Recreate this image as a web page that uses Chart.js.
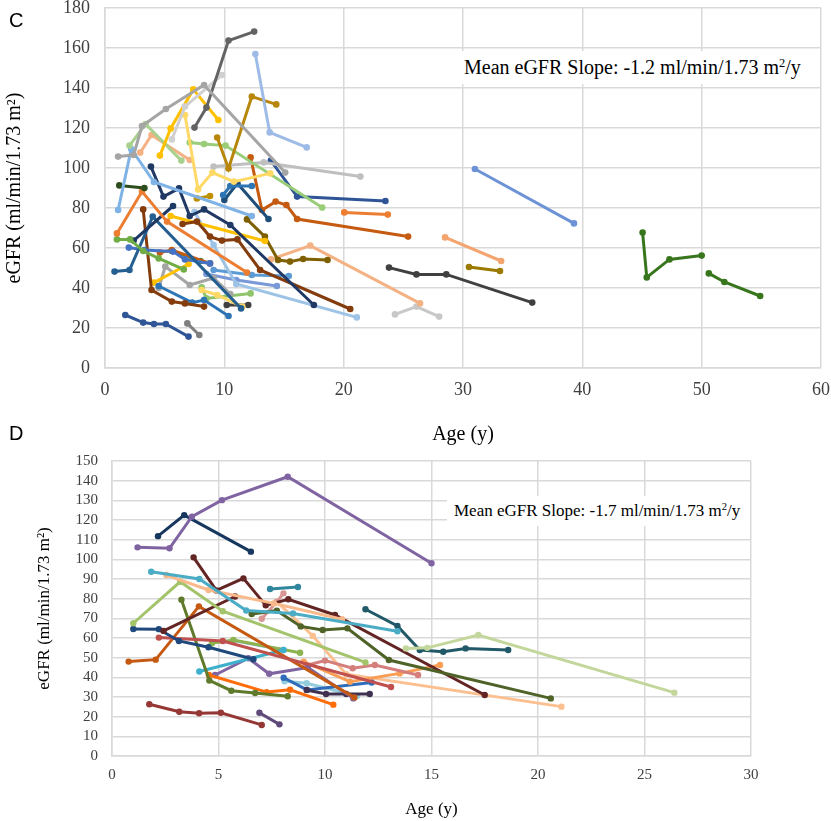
<!DOCTYPE html>
<html>
<head>
<meta charset="utf-8">
<script src="https://cdn.jsdelivr.net/npm/chart.js@4.4.1/dist/chart.umd.min.js"></script>
<style>
  body { margin: 0; background: #fff; width: 831px; height: 821px; overflow: hidden; position: relative; font-family: 'Liberation Serif', serif; }
  .wrap { position: absolute; left: 0; width: 831px; }
  .panel { position: absolute; font-family: 'Liberation Sans', Arial, sans-serif; font-size: 20px; line-height: 20px; color: #000; }
  .note { position: absolute; background: #fff; color: #000; white-space: nowrap; box-sizing: border-box; }
  .note sup { font-size: 0.62em; vertical-align: 0.55em; line-height: 0; }
</style>
</head>
<body>
<div class="wrap" style="top:0;height:450px"><canvas id="chartC"></canvas></div>
<div class="wrap" style="top:450px;height:371px"><canvas id="chartD"></canvas></div>
<div class="panel" style="left:9px;top:10px">C</div>
<div class="panel" style="left:9px;top:423px">D</div>
<div class="note" style="left:458px;top:51px;width:362px;height:33px;line-height:33px;padding-left:6px;font-size:20px">Mean eGFR Slope: -1.2 ml/min/1.73 m<sup>2</sup>/y</div>
<div class="note" style="left:447px;top:496px;width:303px;height:30px;line-height:30px;padding-left:7px;font-size:17px">Mean eGFR Slope: -1.7 ml/min/1.73 m<sup>2</sup>/y</div>

<script>
// ---- panel C: age (y) and eGFR per patient ----
var C_X_TICKS = [0, 10, 20, 30, 40, 50, 60];
var C_Y_TICKS = [0, 20, 40, 60, 80, 100, 120, 140, 160, 180];

var C_AGE = [
  [1.1, 2.4, 3.1, 5.1, 8.3, 15.1],
  [7.5, 8.5, 10.35, 12.5],
  [5.6, 6.7, 9.8],
  [12.6, 13.8, 16.9],
  [9.4, 10.35, 12.3, 14.35],
  [4.6, 5.5, 7.4, 9.5],
  [6.7, 7.8, 9.0, 10.8, 13.85],
  [2.05, 3.4, 6.4],
  [2.95, 3.9, 7.1],
  [7.1, 8.3, 10.1, 18.2],
  [9.1, 13.3, 21.4],
  [1.1, 2.2, 4.1, 12.3],
  [1.2, 3.3],
  [3.85, 4.9, 6.2, 7.1, 8.3, 10.5, 17.5],
  [1.0, 3.1, 5.2, 11.9],
  [1.0, 2.1, 3.2, 4.5, 6.6],
  [2.4, 5.7],
  [0.8, 2.05, 4.0, 11.4],
  [2.0, 3.3, 5.7, 6.7, 8.8],
  [4.6, 5.6, 8.8],
  [5.6, 8.0],
  [3.2, 3.9, 5.6, 6.7, 8.3],
  [4.5, 7.3, 8.3, 10.35],
  [4.1, 7.0],
  [4.5, 5.05, 7.1, 9.1, 10.5],
  [8.1, 9.4, 11.5],
  [8.1, 8.5, 12.2],
  [10.2, 12.0],
  [1.7, 3.2, 4.1, 5.1, 7.0],
  [6.9, 7.9],
  [6.5, 7.7, 8.8, 9.8, 11.1, 13.0, 20.55],
  [5.5, 13.4],
  [7.5, 9.1, 11.0, 21.1],
  [9.1, 12.3, 15.4],
  [8.5, 11.0, 14.4],
  [9.9, 10.5, 12.3],
  [10.0, 11.1, 13.7],
  [7.7, 8.8],
  [12.2, 13.15, 14.3, 15.2, 16.1, 25.4],
  [13.9, 16.1, 23.5],
  [20.05, 23.7],
  [11.9, 13.4, 14.5, 15.5, 16.6, 18.65],
  [13.9, 17.2, 26.4],
  [23.8, 26.1, 28.6, 35.8],
  [24.3, 26.1, 28.0],
  [28.5, 33.2],
  [30.5, 33.1],
  [31.0, 39.3],
  [45.05, 45.4, 47.3, 50.0],
  [50.6, 51.9, 54.9]
];

var C_EGFR = [
  [105.7, 106.5, 121, 129.5, 141.5, 97.7],
  [120.2, 130.2, 163.7, 168.2],
  [114.3, 130.7, 146.5],
  [157, 117.8, 110.3],
  [115.2, 99.8, 135.7, 131.8],
  [106.2, 119.8, 139.3, 124],
  [126.5, 89.3, 97.7, 93.2, 97.3],
  [111.2, 122, 103.7],
  [107.7, 116.5, 104],
  [112.7, 112, 111.2, 80.2],
  [100.7, 102.8, 95.7],
  [79, 109.5, 93, 76],
  [91.3, 90],
  [100.7, 85.7, 89.8, 76, 79.3, 71.5, 31.5],
  [67.3, 88.2, 73.2, 47.7],
  [64.3, 64.3, 58.5, 54.8, 49.3],
  [63.7, 81],
  [48.2, 49, 75.7, 29.8],
  [60.2, 59, 58.2, 54.3, 52.3],
  [57.7, 59, 52.3],
  [58.5, 53.5],
  [79.3, 39, 33.2, 32.3, 30.7],
  [41, 32.7, 34, 26],
  [42.7, 52],
  [40, 50.7, 41.5, 45, 37],
  [39, 36.5, 30.7],
  [40.3, 34.8, 37.3],
  [31.5, 31.5],
  [26.5, 22.7, 22, 22, 15.7],
  [22.3, 16.5],
  [72, 73.2, 65.7, 63.7, 64.3, 49, 29.5],
  [76, 63.5],
  [78, 61.5, 42, 25.3],
  [49, 46.5, 46],
  [47, 44, 41],
  [86.5, 91, 91],
  [84, 92.3, 74.5],
  [84.8, 86],
  [105.3, 79, 83.2, 81.5, 74.5, 65.7],
  [103.7, 85.7, 83.5],
  [77.8, 76.7],
  [74.3, 65.7, 54, 53.2, 54.5, 54],
  [54.3, 61.2, 32.3],
  [50.2, 46.8, 46.8, 32.7],
  [26.8, 30.7, 25.7],
  [65.3, 53.5],
  [50.5, 48.5],
  [99.5, 72.3],
  [67.7, 45.3, 54.3, 56.2],
  [47.3, 43, 36]
];

var C_COLORS = [
  '#a5a5a5', '#636363', '#d0d0d0', '#9dbbe6', '#b8860b', '#ffc000', '#ffd966', '#a9d18e', '#f4b183', '#9acd78',
  '#bfbfbf', '#7fb2e5', '#2d4d1c', '#203864', '#ed7d31', '#70ad47', '#1f3864', '#255e91', '#4472c4', '#c55a11',
  '#548235', '#843c0c', '#2e75b6', '#ffc000', '#a5a5a5', '#ffd966', '#8fc46a', '#404040', '#2f5597', '#7f7f7f',
  '#843c0c', '#ffc000', '#9dc3e6', '#5b9bd5', '#7898d8', '#2e75b6', '#1f4e79', '#bf9000', '#c55a11', '#2f5597',
  '#ed7d31', '#7f6000', '#f4b183', '#404040', '#c8c8c8', '#f4a46e', '#9c7a00', '#6d93d6', '#38761d', '#38761d'
];

// ---- panel D ----
var D_X_TICKS = [0, 5, 10, 15, 20, 25, 30];
var D_Y_TICKS = [0, 10, 20, 30, 40, 50, 60, 70, 80, 90, 100, 110, 120, 130, 140, 150];

var D_AGE = [
  [1.2, 2.7, 3.75, 5.16, 8.25, 15.0],
  [2.16, 3.39, 6.52],
  [1.84, 4.1, 6.3, 8.5, 13.4],
  [2.55, 4.53, 7.6, 10.8],
  [1.0, 3.2, 5.2, 11.9],
  [13.8, 14.8, 17.2, 26.4],
  [11.9, 13.4, 14.45, 15.55, 16.6, 18.6],
  [6.56, 7.74, 8.86, 9.89, 11.05, 13.0, 20.6],
  [3.83, 4.9, 6.17, 7.22, 8.28, 10.47, 17.5],
  [2.42, 5.78],
  [1.0, 2.2, 3.14, 4.53, 6.64],
  [2.2, 5.2, 13.1],
  [0.78, 2.05, 4.08, 11.38],
  [3.26, 4.57, 5.6, 6.72, 8.25],
  [4.55, 7.26, 8.36, 10.39],
  [4.1, 8.05],
  [4.84, 6.4, 7.38, 9.2, 11.33],
  [4.69, 5.7, 8.83],
  [5.7, 8.05],
  [7.03, 7.73, 8.05],
  [7.42, 8.73],
  [9.1, 10.0, 11.3, 12.34, 14.37],
  [9.0, 11.17, 13.5, 15.4],
  [9.14, 10.05, 11.0, 12.1],
  [8.06, 9.16, 12.19],
  [8.1, 9.14, 11.5],
  [1.75, 3.16, 4.09, 5.11, 7.03],
  [6.92, 7.86],
  [7.75, 9.43, 11.0, 21.1]
];

var D_EGFR = [
  [106.1, 105.6, 121.7, 130.1, 142, 98],
  [111.8, 122.5, 103.9],
  [93.7, 90, 74, 72.5, 63.4],
  [92, 84.4, 77.6, 69.5],
  [67.5, 88.6, 73.6, 47.6],
  [54.7, 55, 61.5, 32.2],
  [74.6, 66.1, 53.9, 53, 54.7, 53.9],
  [72.2, 73.9, 65.9, 64.1, 64.9, 48.8, 29.3],
  [101, 84.2, 90.3, 76.6, 79.7, 71.7, 31],
  [63.6, 81.1],
  [64.6, 64.5, 58.5, 55.3, 49.2],
  [60.2, 58.5, 35.1],
  [48, 49, 76.1, 29.8],
  [79.5, 38.4, 33.2, 32, 30.4],
  [41.2, 32.5, 33.7, 26.1],
  [43, 53.9],
  [41.2, 49.7, 41.8, 45, 29.3],
  [57.3, 59, 52.5],
  [58.7, 53.9],
  [69.8, 78.3, 82.7],
  [84.9, 85.9],
  [46, 48.5, 44.6, 46.3, 41.2],
  [48, 37.8, 42, 46.3],
  [33.6, 31.5, 31.5, 31.5],
  [39.8, 33.6, 37.4],
  [38, 37, 30.5],
  [26.3, 22.5, 21.7, 22, 15.8],
  [22, 16.1],
  [78.4, 61, 41.6, 25.1]
];

var D_COLORS = [
  '#8064a2', '#17375e', '#4bacc6', '#fab98a', '#a4c46b', '#c3d69b', '#215968', '#4f6228', '#632523', '#632523',
  '#1f497d', '#c0504d', '#c65911', '#5e7a2a', '#ff6d0a', '#3cb0cc', '#8064a2', '#8cb350', '#95b3d7', '#d99694',
  '#31859c', '#d47f7c', '#fa9d55', '#403151', '#2e6bb8', '#93cddd', '#953735', '#5f497a', '#fcbf8f'
];

function buildDatasets(ages, vals, colors, lineW, radius) {
  return ages.map(function (a, i) {
    return {
      data: a.map(function (x, j) { return { x: x, y: vals[i][j] }; }),
      borderColor: colors[i],
      backgroundColor: colors[i],
      borderWidth: lineW,
      pointRadius: radius,
      pointBorderWidth: 0,
      pointHoverRadius: radius,
      tension: 0
    };
  });
}

function fixedTicks(list) {
  return function (scale) { scale.ticks = list.map(function (v) { return { value: v }; }); };
}

function makeChart(id, cfg) {
  var gridColor = '#d9d9d9';
  var serif = 'Liberation Serif';
  new Chart(document.getElementById(id).getContext('2d'), {
    type: 'line',
    data: { datasets: buildDatasets(cfg.ages, cfg.vals, cfg.colors, cfg.lineW, cfg.radius) },
    options: {
      responsive: true,
      maintainAspectRatio: false,
      animation: false,
      events: [],
      layout: { padding: cfg.pad },
      plugins: { legend: { display: false }, tooltip: { enabled: false } },
      scales: {
        x: {
          type: 'linear', min: cfg.xTicks[0], max: cfg.xTicks[cfg.xTicks.length - 1],
          afterBuildTicks: fixedTicks(cfg.xTicks),
          afterFit: function (s) { s.height = cfg.xHeight; s.paddingLeft = 0; s.paddingRight = 0; },
          grid: { color: gridColor, lineWidth: 1.5, drawTicks: false },
          border: { color: gridColor, width: 1.5 },
          ticks: { font: { family: serif, size: cfg.tickSize }, color: '#404040', padding: cfg.xTickPad, maxRotation: 0, autoSkip: false },
          title: { display: true, text: 'Age (y)', font: { family: serif, size: cfg.titleSize }, color: '#000', padding: { top: 0, bottom: cfg.xTitlePad } }
        },
        y: {
          type: 'linear', min: cfg.yTicks[0], max: cfg.yTicks[cfg.yTicks.length - 1],
          afterBuildTicks: fixedTicks(cfg.yTicks),
          afterFit: function (s) { s.width = cfg.yWidth; s.paddingTop = 0; s.paddingBottom = 0; },
          grid: { color: gridColor, lineWidth: 1.5, drawTicks: false },
          border: { color: gridColor, width: 1.5 },
          ticks: { font: { family: serif, size: cfg.tickSize }, color: '#404040', padding: cfg.yTickPad, autoSkip: false },
          title: { display: true, text: 'eGFR (ml/min/1.73 m\u00b2)', font: { family: serif, size: cfg.titleSize }, color: '#000', padding: { top: cfg.yTitlePad, bottom: 0 } }
        }
      }
    }
  });
}

document.addEventListener('DOMContentLoaded', function () {
  makeChart('chartC', {
    ages: C_AGE, vals: C_EGFR, colors: C_COLORS, xTicks: C_X_TICKS, yTicks: C_Y_TICKS,
    lineW: 3, radius: 3.3, pad: { left: 0, top: 8, right: 10, bottom: 0 },
    xHeight: 82, yWidth: 105, tickSize: 18, titleSize: 20,
    xTickPad: 11, yTickPad: 15, xTitlePad: 3, yTitlePad: 3
  });
  makeChart('chartD', {
    ages: D_AGE, vals: D_EGFR, colors: D_COLORS, xTicks: D_X_TICKS, yTicks: D_Y_TICKS,
    lineW: 3, radius: 3.2, pad: { left: 0, top: 11, right: 80, bottom: 0 },
    xHeight: 65, yWidth: 112, tickSize: 15, titleSize: 17,
    xTickPad: 10, yTickPad: 14, xTitlePad: 1, yTitlePad: 34
  });
});
</script>
</body>
</html>
